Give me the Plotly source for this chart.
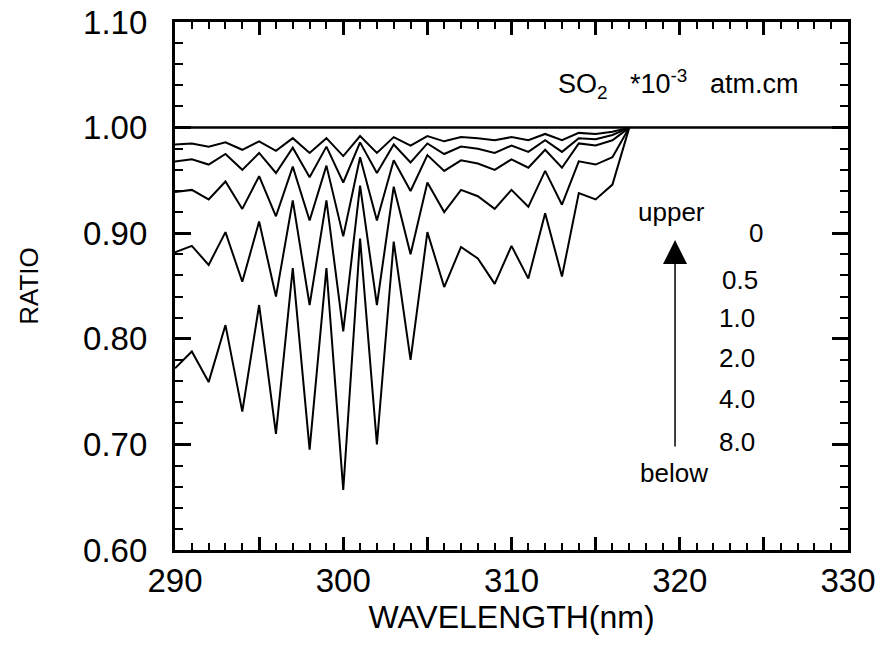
import plotly.graph_objects as go

# ---- data ----
wavelength = list(range(290, 318))          # nm, 290..317
wavelength_ref = [290, 330]
ratio_0 = [1.00, 1.00]
ratio_05 = [0.984, 0.985, 0.982, 0.986, 0.979, 0.987, 0.978, 0.990, 0.976, 0.990,
            0.973, 0.992, 0.976, 0.991, 0.983, 0.992, 0.987, 0.991, 0.990, 0.988,
            0.991, 0.988, 0.994, 0.988, 0.995, 0.994, 0.996, 1.000]
ratio_10 = [0.968, 0.970, 0.965, 0.975, 0.960, 0.976, 0.957, 0.981, 0.953, 0.982,
            0.948, 0.986, 0.957, 0.984, 0.967, 0.985, 0.975, 0.982, 0.980, 0.976,
            0.983, 0.977, 0.988, 0.977, 0.990, 0.989, 0.993, 1.000]
ratio_20 = [0.939, 0.941, 0.932, 0.949, 0.923, 0.954, 0.916, 0.963, 0.912, 0.964,
            0.897, 0.972, 0.912, 0.969, 0.940, 0.974, 0.959, 0.969, 0.966, 0.960,
            0.970, 0.962, 0.979, 0.962, 0.985, 0.983, 0.988, 1.000]
ratio_40 = [0.882, 0.888, 0.870, 0.901, 0.854, 0.911, 0.840, 0.931, 0.832, 0.931,
            0.807, 0.945, 0.832, 0.944, 0.880, 0.948, 0.920, 0.941, 0.935, 0.923,
            0.941, 0.925, 0.959, 0.927, 0.968, 0.965, 0.972, 1.000]
ratio_80 = [0.772, 0.788, 0.759, 0.813, 0.731, 0.832, 0.710, 0.867, 0.695, 0.867,
            0.657, 0.895, 0.700, 0.892, 0.780, 0.901, 0.849, 0.887, 0.876, 0.852,
            0.888, 0.857, 0.919, 0.859, 0.938, 0.932, 0.946, 1.000]

x_tickvals = [290, 295, 300, 305, 310, 315, 320, 325, 330]
x_ticktext = ["290", " ", "300", " ", "310", " ", "320", " ", "330"]
so2_labels = ["0", "0.5", "1.0", "2.0", "4.0", "8.0"]

FONT = "Liberation Sans, Arial, Helvetica, sans-serif"

fig = go.Figure()
fig.add_trace(go.Scatter(x=wavelength_ref, y=ratio_0, mode="lines",
                         line=dict(color="black", width=2), name="0"))
for name, ys in [("0.5", ratio_05), ("1.0", ratio_10), ("2.0", ratio_20),
                 ("4.0", ratio_40), ("8.0", ratio_80)]:
    fig.add_trace(go.Scatter(x=wavelength, y=ys, mode="lines",
                             line=dict(color="black", width=2), name=name))
# same reference line on overlaid axes, whose mirrored ticks land on the
# left and bottom edges of the frame
fig.add_trace(go.Scatter(x=wavelength_ref, y=ratio_0, mode="lines",
                         xaxis="x2", yaxis="y2",
                         line=dict(color="black", width=2), name="0",
                         hoverinfo="skip"))

frame = dict(showline=True, linewidth=2.5, linecolor="black", mirror="ticks",
             ticks="inside", tickwidth=2.5, tickcolor="black",
             showgrid=False, zeroline=False, automargin=False)

x_minor = dict(tickmode="linear", tick0=290, dtick=1, ticks="inside",
               ticklen=7, tickwidth=1.8, tickcolor="black")
y_minor = dict(tickmode="linear", tick0=0.6, dtick=0.02, ticks="inside",
               ticklen=8, tickwidth=1.8, tickcolor="black")

fig.update_layout(
    xaxis=dict(range=[290, 330], tickmode="array", tickvals=x_tickvals,
               ticktext=x_ticktext, ticklen=13, minor=x_minor,
               ticklabeloverflow="allow",
               tickfont=dict(family=FONT, size=33, color="black"),
               title=dict(text="WAVELENGTH(nm)", standoff=6,
                          font=dict(family=FONT, size=32, color="black")),
               **frame),
    yaxis=dict(range=[0.6, 1.1], tickmode="linear", tick0=0.6, dtick=0.1,
               tickformat=".2f", ticklen=16, ticksuffix="  ", minor=y_minor,
               ticklabeloverflow="allow",
               tickfont=dict(family=FONT, size=33, color="black"),
               title=dict(text="RATIO", standoff=37,
                          font=dict(family=FONT, size=26, color="black")),
               **frame),
    xaxis2=dict(range=[290, 330], overlaying="x", side="top", anchor="y2",
                tickmode="array", tickvals=x_tickvals, ticklen=13,
                showticklabels=False, minor=x_minor, **frame),
    yaxis2=dict(range=[0.6, 1.1], overlaying="y", side="right", anchor="x2",
                tickmode="linear", tick0=0.6, dtick=0.1, ticklen=16,
                showticklabels=False, minor=y_minor, **frame),
)

ann_font = dict(family=FONT, size=26, color="black")
annotations = [
    dict(x=0.747, y=0.882, text="SO<sub>2</sub>   *10<sup>-3</sup>   atm.cm",
         font=dict(family=FONT, size=27, color="black")),
    dict(x=0.738, y=0.640, text="upper", font=ann_font),
    dict(x=0.741, y=0.146, text="below", font=ann_font),
]
label_pos = [(0.864, 0.600), (0.839, 0.511), (0.835, 0.439),
             (0.835, 0.363), (0.835, 0.286), (0.835, 0.204)]
for lab, (xp, yp) in zip(so2_labels, label_pos):
    annotations.append(dict(x=xp, y=yp, text=lab, font=ann_font))
for a in annotations:
    a.update(xref="paper", yref="paper", showarrow=False, xanchor="center", yanchor="middle")

# arrow from "below" to "upper"
annotations.append(dict(xref="x domain", yref="y domain", x=0.743, y=0.587,
                        axref="x domain", ayref="y domain", ax=0.743, ay=0.193,
                        showarrow=True, arrowhead=2, arrowsize=3.2, arrowwidth=1.5,
                        arrowcolor="black", text=""))

fig.update_layout(width=884, height=651, plot_bgcolor="white", paper_bgcolor="white",
                  showlegend=False, annotations=annotations,
                  margin=dict(l=174.5, r=36, t=22, b=101))

fig.write_html("out.html", config={"displayModeBar": False},
               post_script="document.body.style.margin='0';")
